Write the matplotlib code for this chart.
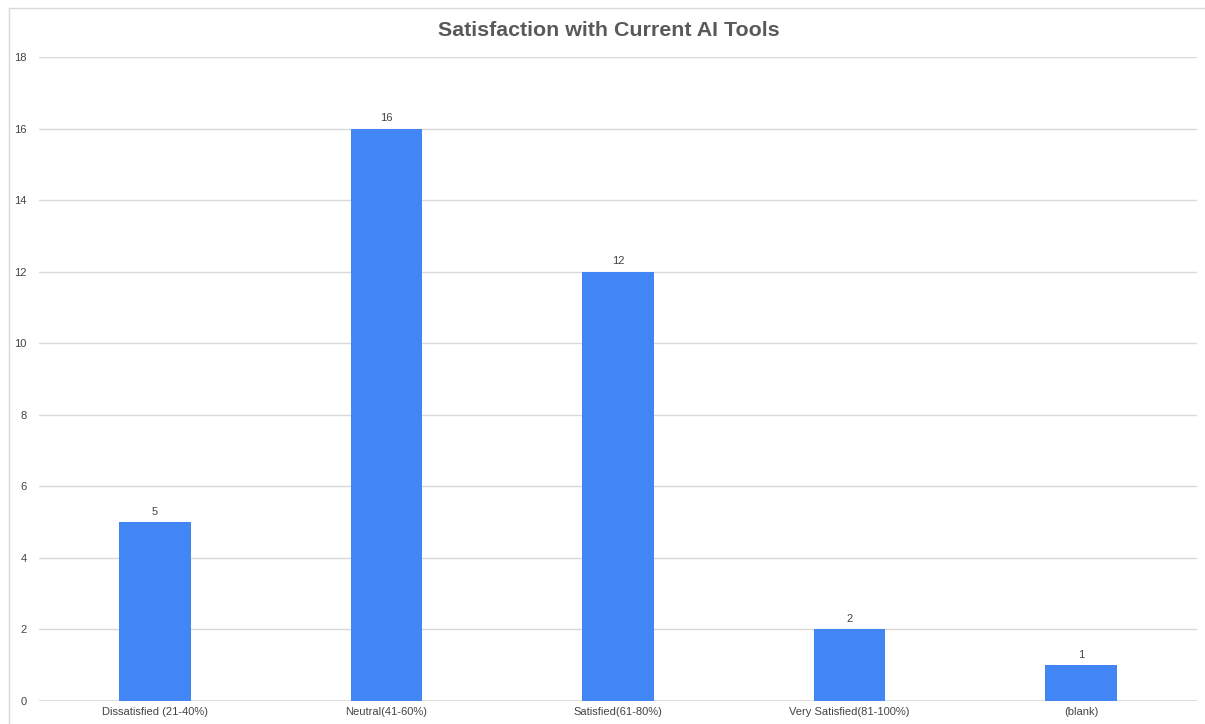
import matplotlib
matplotlib.use("Agg")
import matplotlib.pyplot as plt
from matplotlib.lines import Line2D

categories = ["Dissatisfied (21-40%)", "Neutral(41-60%)", "Satisfied(61-80%)",
              "Very Satisfied(81-100%)", "(blank)"]
counts = [5, 16, 12, 2, 1]
y_ticks = [0, 2, 4, 6, 8, 10, 12, 14, 16, 18]

plt.rcParams["font.family"] = ["Liberation Sans", "DejaVu Sans"]

W, H = 1205, 724
fig = plt.figure(figsize=(W / 100, H / 100), dpi=100)
ax = fig.add_axes([39 / W, 1 - 701 / H, (1197 - 39) / W, (701 - 57) / H])

x = list(range(len(categories)))
ax.bar(x, counts, width=0.31, color="#4285F4", zorder=3)
for xi, v in zip(x, counts):
    ax.annotate(str(v), (xi, v), xytext=(0, 4), textcoords="offset points",
                ha="center", va="bottom", fontsize=8, color="#444444")

ax.set_xlim(-0.5, len(categories) - 0.5)
ax.set_ylim(0, 18)
ax.set_yticks(y_ticks)
ax.set_xticks(x)
ax.set_xticklabels(categories)
ax.tick_params(axis="both", length=0, labelsize=8, labelcolor="#444444")
ax.tick_params(axis="y", pad=9)
ax.tick_params(axis="x", pad=4)
ax.grid(axis="y", color="#d9d9d9", linewidth=1, zorder=0)
for s in ax.spines.values():
    s.set_visible(False)
ax.axhline(0, color="#d9d9d9", linewidth=1.2, zorder=2)

fig.text(609 / W, 1 - 31 / H, "Satisfaction with Current AI Tools", ha="center",
         va="center", fontsize=15.4, fontweight="bold", color="#595959")

# outer chart frame
fig.add_artist(Line2D([9 / W, 9 / W, 1.0], [0.0, 1 - 8 / H, 1 - 8 / H],
                      transform=fig.transFigure, color="#d9d9d9", linewidth=1))

fig.savefig("out.png", dpi=100, facecolor="white")
